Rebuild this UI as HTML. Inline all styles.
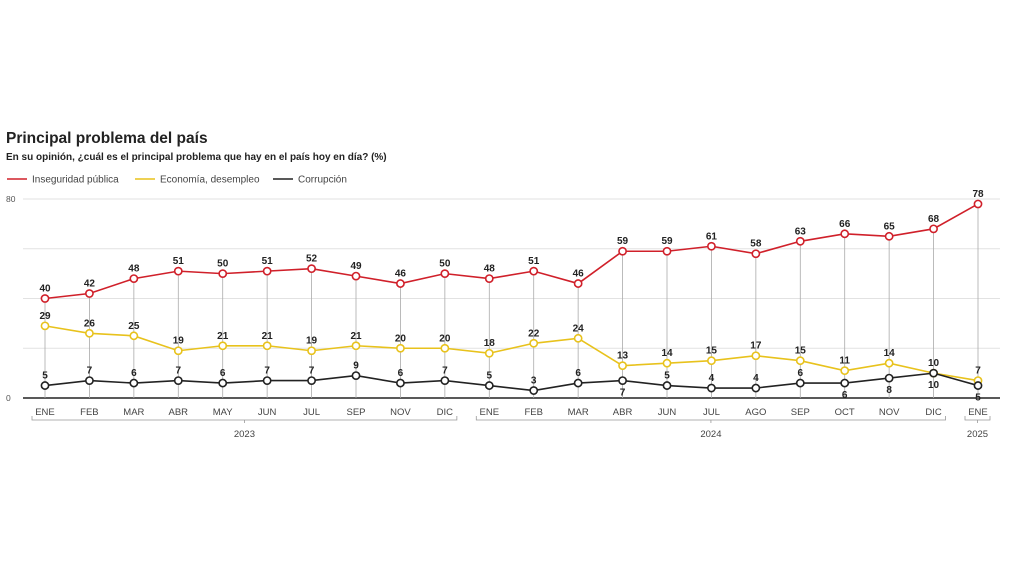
<!DOCTYPE html>
<html><head><meta charset="utf-8"><style>
body{margin:0;background:#fff;width:1009px;height:568px;overflow:hidden;font-family:"Liberation Sans",sans-serif}
</style></head><body>
<svg id="c" width="1009" height="568" xmlns="http://www.w3.org/2000/svg">
<text x="6" y="143" font-size="15.5" font-weight="bold" fill="#222">Principal problema del país</text>
<text x="6" y="160" font-size="10" font-weight="bold" fill="#222">En su opinión, ¿cuál es el principal problema que hay en el país hoy en día?  (%)</text>
<g id="legend" font-size="10" fill="#444"></g>
<g id="grid"></g><g id="vlines"></g><g id="series"></g><g id="labels"></g><g id="xaxis"></g>
</svg>
<script>
const months=["ENE","FEB","MAR","ABR","MAY","JUN","JUL","SEP","NOV","DIC","ENE","FEB","MAR","ABR","JUN","JUL","AGO","SEP","OCT","NOV","DIC","ENE"];
const inseguridad=[40,42,48,51,50,51,52,49,46,50,48,51,46,59,59,61,58,63,66,65,68,78];
const economia=[29,26,25,19,21,21,19,21,20,20,18,22,24,13,14,15,17,15,11,14,10,7];
const corrupcion=[5,7,6,7,6,7,7,9,6,7,5,3,6,7,5,4,4,6,6,8,10,5];
const corrupcionBelow=[0,0,0,0,0,0,0,0,0,0,0,0,0,1,0,0,0,0,1,1,1,1];
const yTicks=[0,20,40,60,80];
const yTickLabels=["0","","","","80"];
const years=[{label:"2023",from:0,to:9},{label:"2024",from:10,to:20},{label:"2025",from:21,to:21}];
const NS="http://www.w3.org/2000/svg";
const X=i=>45+i*(978-45)/(months.length-1);
const Y=v=>398-v*(199/80);
function el(t,a,p){const e=document.createElementNS(NS,t);for(const k in a)e.setAttribute(k,a[k]);p.appendChild(e);return e;}
const g=id=>document.getElementById(id);
[["Inseguridad pública","#d0202a",5],["Economía, desempleo","#e8c21c",133],["Corrupción","#222",271]].forEach(([t,c,x])=>{
 const l=el("line",{x1:x+2,x2:x+22,y1:179,y2:179,stroke:c,"stroke-width":1.5},g("legend"));
 
 
 const tx=el("text",{x:x+27,y:182.5},g("legend"));tx.textContent=t;
 
 
});
yTicks.forEach((v,i)=>{
 const ln=el("line",{x1:23,x2:1000,y1:Y(v),y2:Y(v),stroke:v===0?"#222":"#e2e2e2","stroke-width":v===0?1.5:1},g("grid"));
 
 
 if(yTickLabels[i]){const t=el("text",{x:6,y:Y(v)+3,"font-size":8.5,fill:"#555"},g("grid"));t.textContent=yTickLabels[i];
 
 }
});
inseguridad.forEach((v,i)=>{const l=el("line",{x1:X(i),x2:X(i),y1:Y(v),y2:Y(0),stroke:"#aaa","stroke-width":0.8},g("vlines"));
 
 });
function series(data,color,name,below){
 const p=el("polyline",{points:data.map((v,i)=>X(i)+","+Y(v)).join(" "),fill:"none",stroke:color,"stroke-width":1.6},g("series"));
 
 
 data.forEach((v,i)=>{
  const c=el("circle",{cx:X(i),cy:Y(v),r:3.6,fill:"#fff",stroke:color,"stroke-width":1.6},g("series"));
  
  
  const b=below&&below[i];
  const t=el("text",{x:X(i),y:b?Y(v)+15:Y(v)-7,"font-size":10,"font-weight":"bold",fill:"#222","text-anchor":"middle"},g("labels"));
  t.textContent=v;
  
  
 });
}
series(economia,"#e8c21c","economia");
series(corrupcion,"#222","corrupcion",corrupcionBelow);
series(inseguridad,"#d0202a","inseguridad");
months.forEach((m,i)=>{const t=el("text",{x:X(i),y:415,"font-size":9.5,fill:"#444","text-anchor":"middle"},g("xaxis"));t.textContent=m;
 
 });
years.forEach(y=>{
 const x1=X(y.from)-13,x2=X(y.to)+12,mid=(x1+x2)/2;
 const p=el("path",{d:`M${x1},416V420H${x2}V416M${mid},420V423`,fill:"none",stroke:"#999","stroke-width":0.8},g("xaxis"));
 
 
 const t=el("text",{x:mid,y:437,"font-size":9.5,fill:"#444","text-anchor":"middle"},g("xaxis"));t.textContent=y.label;
 
 
});
</script>
</body></html>
